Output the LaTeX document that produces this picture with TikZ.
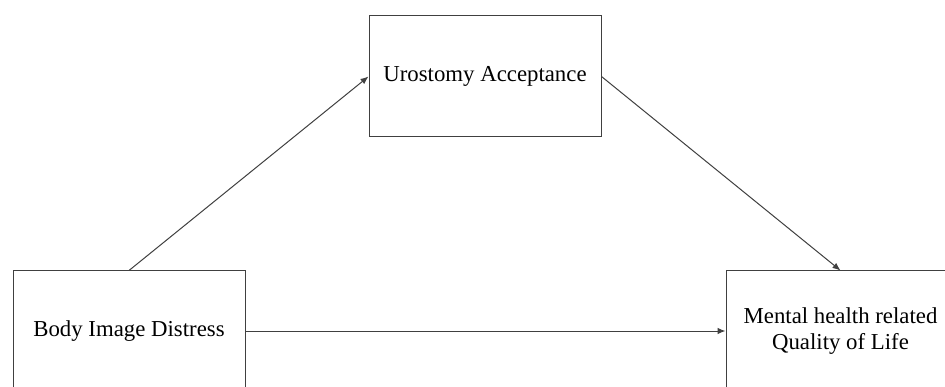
\documentclass[tikz,border=0pt]{standalone}
\usepackage{fontspec}
\setmainfont{Liberation Serif}
\usetikzlibrary{arrows.meta}
\begin{document}
\begin{tikzpicture}[x=1pt,y=-1pt,
  varbox/.style={draw=black!75, line width=1pt, inner sep=0pt, align=center,
    font=\fontsize{22.8}{25.5}\selectfont},
  link/.style={draw=black!75, line width=1pt, -{Latex[length=8pt,width=6.5pt]}}]
\clip (0,0) rectangle (945,387);
\fill[white] (0,0) rectangle (945,387);
\node[varbox, minimum width=232pt, minimum height=121pt] (ua) at (485,76.5) {Urostomy Acceptance};
\node[varbox, minimum width=232pt, minimum height=120pt] (bid) at (129,331) {Body Image Distress};
\node[varbox, minimum width=229pt, minimum height=120pt] (mh) at (840.5,331) {Mental health related\\Quality of Life};
\draw[link] (bid.north) -- (ua.west);
\draw[link] (ua.east) -- (mh.north);
\draw[link] (bid.east) -- (mh.west);
\end{tikzpicture}
\end{document}
